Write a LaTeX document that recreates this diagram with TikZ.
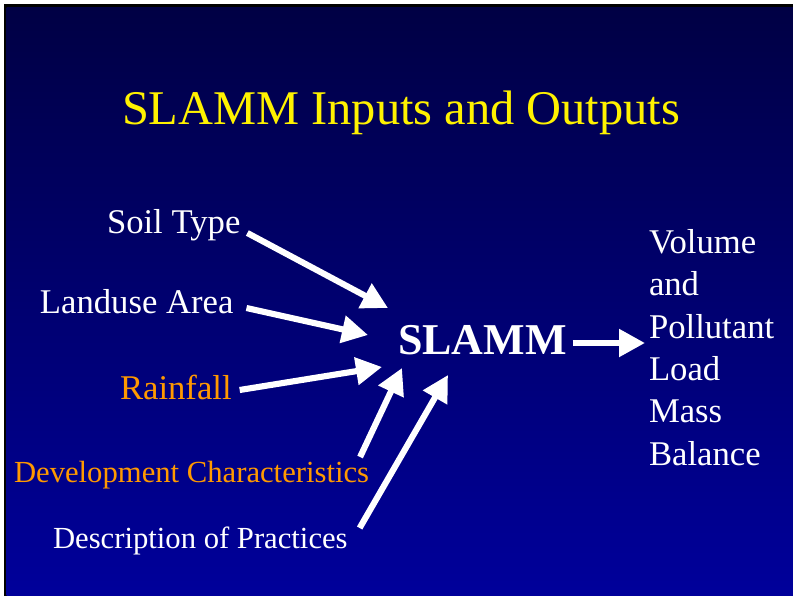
\documentclass[tikz,border=0pt]{standalone}
\usepackage{fontspec}
\setmainfont{Liberation Serif}
\usepackage{tikz}
\usetikzlibrary{positioning, arrows.meta, calc}

\definecolor{slidetop}{RGB}{0,0,68}
\definecolor{slidebot}{RGB}{0,0,155}
\definecolor{slideorange}{RGB}{255,153,0}

\begin{document}
\begin{tikzpicture}[
    x=0.75pt, y=-0.75pt,
    every node/.style={inner sep=0pt, outer sep=0pt},
    heading/.style={text=yellow, font=\fontsize{36.3}{43}\selectfont, anchor=base},
    inlabel/.style={text=white, font=\fontsize{26}{31}\selectfont, anchor=base west},
    hilabel/.style={inlabel, text=slideorange},
    smalllabel/.style={inlabel, font=\fontsize{23}{28}\selectfont},
    model/.style={text=white, font=\fontsize{33}{39}\selectfont\bfseries, anchor=base west},
    outlabel/.style={text=white, font=\fontsize{26}{31.7}\selectfont, align=left, anchor=base west},
    arrow/.style={-{Triangle[length=19.5pt, width=20pt]}, line width=4.6pt, white},
]
\useasboundingbox (0,0) rectangle (793,596);

% --- Slide background ---
\fill[white] (0,0) rectangle (793,596);
\fill[black] (4,4) rectangle (794,597);
\shade[top color=slidetop, bottom color=slidebot] (6.5,7) rectangle (794,597);

% --- Title ---
\node[heading] (title) at (401,124) {SLAMM Inputs and Outputs};

% --- Inputs (left column) ---
\node[inlabel]    (soil)    at (107,233) {Soil Type};
\node[inlabel]    (landuse) at (40,313)  {Landuse Area};
\node[hilabel]    (rain)    at (120,399) {Rainfall};
\node[smalllabel, text=slideorange] (devel) at (14,482) {Development Characteristics};
\node[smalllabel] (descr)   at (53,548)  {Description of Practices};

% --- Model and output ---
\node[model]      (slamm)   at (398,354) {SLAMM};
\node[outlabel]   (result)  at (649,465) {Volume\\and\\Pollutant\\Load\\Mass\\Balance};

% --- Arrow tips round the model ---
\coordinate (tipSoil)    at (388,308);
\coordinate (tipLanduse) at (368,335);
\coordinate (tipRain)    at (382,367);
\coordinate (tipDevel)   at (402,368);
\coordinate (tipDescr)   at (448,375);
\coordinate (tipResult)  at (645,343);

% --- Arrows ---
\draw[arrow] ([shift={(7,0)}]soil.base east)     -- (tipSoil);
\draw[arrow] ([shift={(13,-5)}]landuse.base east) -- (tipLanduse);
\draw[arrow] ([shift={(8,-9)}]rain.base east)     -- (tipRain);
\draw[arrow] ([shift={(-9,-25)}]devel.base east)  -- (tipDevel);
\draw[arrow] ([shift={(12,-20)}]descr.base east)  -- (tipDescr);
\draw[arrow] (slamm.base east |- tipResult) ++(6,0) -- (tipResult);
\end{tikzpicture}
\end{document}
